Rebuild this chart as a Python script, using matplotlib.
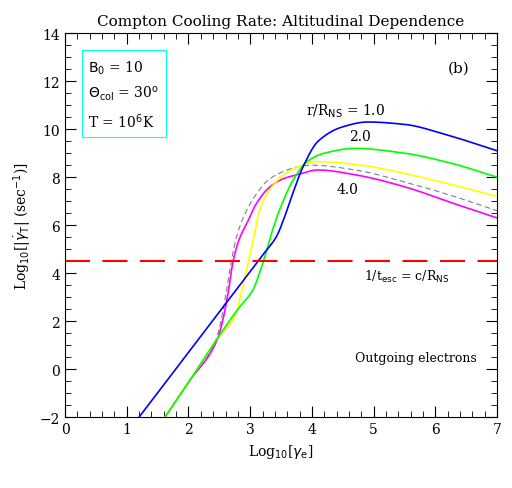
import numpy as np
import matplotlib
matplotlib.use("Agg")
import matplotlib.pyplot as plt
from matplotlib.ticker import MultipleLocator

x_r10 = [1.2, 2.0, 2.8, 3.2, 3.43, 3.55, 3.7, 3.85, 4.1, 4.5, 4.9, 5.5, 6.2, 7.0]
y_r10 = [-2.0, 0.7, 3.4, 4.75, 5.55, 6.3, 7.4, 8.4, 9.5, 10.1, 10.3, 10.2, 9.75, 9.1]
x_r20 = [1.62, 2.0, 2.46, 2.8, 3.05, 3.13, 3.21, 3.35, 3.48, 3.7, 3.92, 4.2, 4.7, 5.5, 6.3, 7.0]
y_r20 = [-2.0, -0.55, 1.25, 2.5, 3.33, 3.85, 4.46, 5.7, 6.67, 7.9, 8.65, 9.0, 9.2, 9.0, 8.55, 8.0]
x_r30 = [1.62, 2.0, 2.46, 2.75, 2.84, 2.92, 3.05, 3.16, 3.35, 3.6, 3.85, 4.1, 4.8, 5.6, 6.4, 7.0]
y_r30 = [-2.0, -0.55, 1.25, 2.2, 3.0, 3.9, 5.4, 6.67, 7.6, 8.2, 8.5, 8.65, 8.5, 8.1, 7.6, 7.2]
x_r40 = [1.62, 2.0, 2.47, 2.57, 2.65, 2.72, 2.82, 2.95, 3.1, 3.32, 3.55, 3.76, 4.1, 4.7, 5.5, 6.3, 7.0]
y_r40 = [-2.0, -0.55, 1.25, 2.2, 3.3, 4.46, 5.4, 6.1, 6.9, 7.6, 7.95, 8.1, 8.3, 8.1, 7.6, 6.9, 6.3]
x_dash = [1.62, 2.0, 2.45, 2.55, 2.63, 2.7, 2.8, 2.92, 3.1, 3.3, 3.55, 3.8, 4.0, 4.7, 5.5, 6.3, 7.0]
y_dash = [-2.0, -0.55, 1.25, 2.3, 3.5, 4.6, 5.7, 6.5, 7.3, 7.9, 8.25, 8.45, 8.5, 8.3, 7.8, 7.2, 6.6]
esc_level = 4.5

def smooth(x, y, n=400):
    x = np.asarray(x, float); y = np.asarray(y, float)
    xs = np.linspace(x[0], x[-1], n)
    h = np.diff(x); d = np.diff(y) / h
    m = np.zeros_like(y)
    m[0], m[-1] = d[0], d[-1]
    for i in range(1, len(x) - 1):
        if d[i-1] * d[i] > 0:
            w1 = 2*h[i] + h[i-1]; w2 = h[i] + 2*h[i-1]
            m[i] = (w1 + w2) / (w1/d[i-1] + w2/d[i])
    idx = np.clip(np.searchsorted(x, xs) - 1, 0, len(x) - 2)
    t = (xs - x[idx]) / h[idx]
    h00 = 2*t**3 - 3*t**2 + 1; h10 = t**3 - 2*t**2 + t
    h01 = -2*t**3 + 3*t**2; h11 = t**3 - t**2
    ys = h00*y[idx] + h10*h[idx]*m[idx] + h01*y[idx+1] + h11*h[idx]*m[idx+1]
    return xs, ys

plt.rcParams['font.family'] = ['DejaVu Serif']
fig = plt.figure(figsize=(5.12, 4.89), dpi=100)
ax = fig.add_axes([0.127, 0.145, 0.844, 0.785])

ax.plot(*smooth(x_dash, y_dash), color='gray', lw=0.8, ls=(0, (5, 3)))
ax.plot(*smooth(x_r40, y_r40), color='magenta', lw=1.2)
ax.plot(*smooth(x_r30, y_r30), color='yellow', lw=1.2)
ax.plot(*smooth(x_r20, y_r20), color='lime', lw=1.2)
ax.plot(*smooth(x_r10, y_r10), color='blue', lw=1.2)
ax.axhline(esc_level, color='red', lw=1.5, dashes=(12, 6))

ax.set_xlim(0, 7); ax.set_ylim(-2, 14)
ax.xaxis.set_major_locator(MultipleLocator(1)); ax.xaxis.set_minor_locator(MultipleLocator(0.2))
ax.yaxis.set_major_locator(MultipleLocator(2)); ax.yaxis.set_minor_locator(MultipleLocator(0.5))
ax.tick_params(which='both', direction='in', top=True, right=True, labelsize=10)
ax.tick_params(which='major', length=8); ax.tick_params(which='minor', length=4)
ax.set_yticklabels([('\u2212' + str(-int(v))) if v < 0 else str(int(v)) for v in ax.get_yticks()])

ax.set_title('Compton Cooling Rate: Altitudinal Dependence', fontsize=11)
ax.set_xlabel(r'Log$_{10}$[$\gamma_{\rm e}$]', fontsize=10)
ax.set_ylabel(r'Log$_{10}$[|$\dot\gamma_{\rm T}$| (sec$^{-1}$)]', fontsize=10)

ax.text(0.38, 11.45, '$\\mathrm{B_0}$ = 10\n$\\Theta_{\\rm col}$ = 30$^{\\rm o}$\nT = 10$^6$K',
        fontsize=10, va='center', linespacing=1.6,
        bbox=dict(boxstyle='square,pad=0.5', fc='white', ec='cyan', lw=0.8))
ax.text(6.55, 12.4, '(b)', fontsize=11, ha='right')
ax.text(3.9, 10.6, r'r/R$_{\rm NS}$ = 1.0', fontsize=10)
ax.text(4.6, 9.55, '2.0', fontsize=10)
ax.text(4.4, 7.35, '4.0', fontsize=10)
ax.text(4.85, 3.7, r'1/t$_{\rm esc}$ = c/R$_{\rm NS}$', fontsize=9)
ax.text(4.7, 0.35, 'Outgoing electrons', fontsize=9)

fig.savefig('out.png', dpi=100)
